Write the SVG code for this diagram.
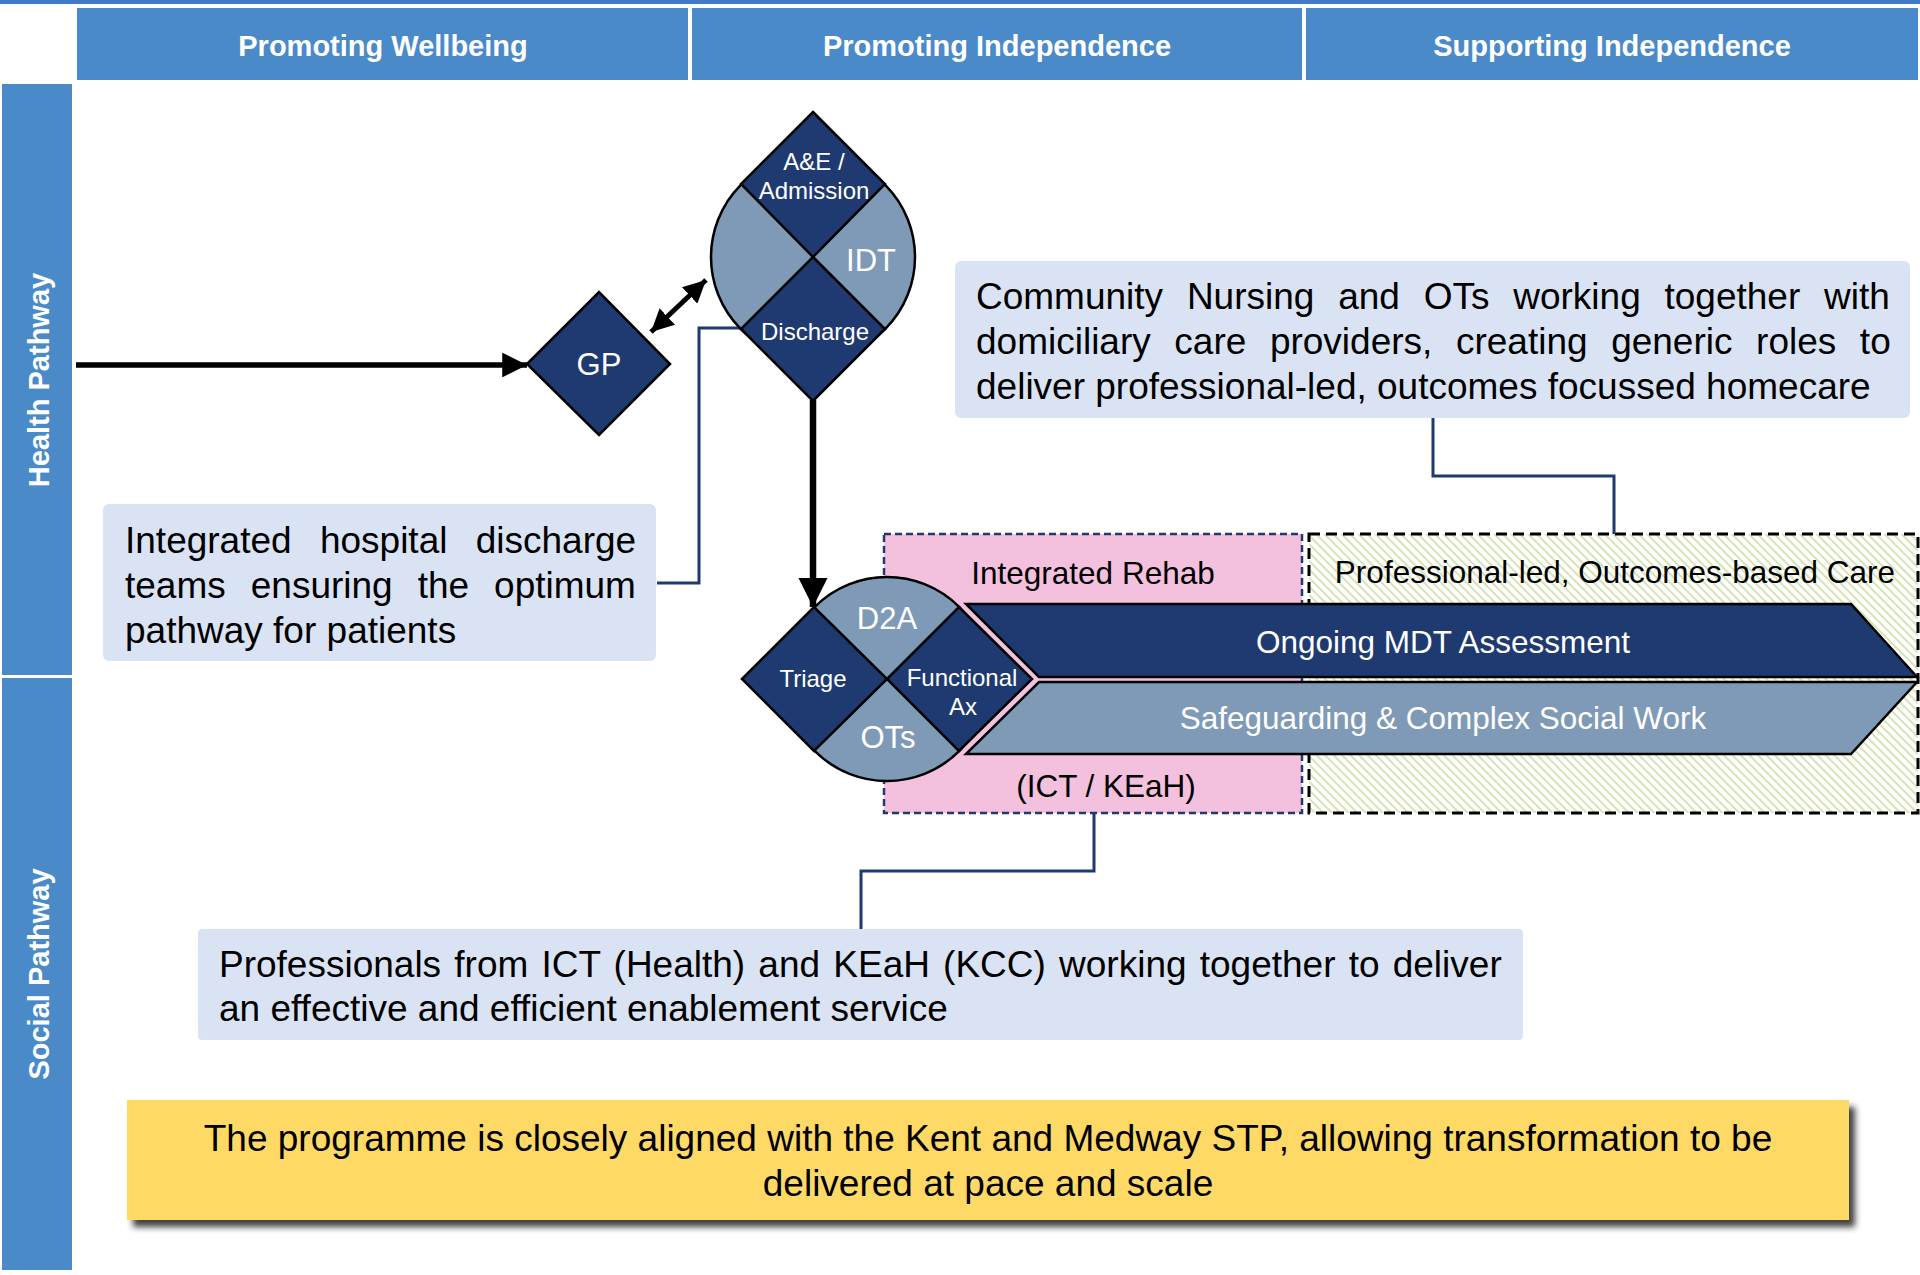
<svg xmlns="http://www.w3.org/2000/svg" width="1920" height="1275" viewBox="0 0 1920 1275">
<style>
text{font-family:"Liberation Sans",Arial,sans-serif}
.hdr{fill:#4A8AC9}
.hdrt{fill:#fff;font-weight:bold;font-size:29px;text-anchor:middle}
.navy{fill:#1F3A70;stroke:#000;stroke-width:2.5}
.light{fill:#7F9AB6;stroke:#000;stroke-width:2.5}
.wl{fill:#fff;font-size:24px;text-anchor:middle}
.wb{fill:#fff;font-size:31px;text-anchor:middle}
.box{fill:#DAE3F3}
.bt{fill:#000;font-size:37px}
.mt{fill:#000;font-size:31.5px}
.conn{fill:none;stroke:#1F3A70;stroke-width:3}
.arr{fill:none;stroke:#000}
</style>
<defs>
<pattern id="hatch" width="6" height="6" patternUnits="userSpaceOnUse" patternTransform="rotate(-45)">
<rect width="6" height="6" fill="#fff"/>
<line x1="1" y1="0" x2="1" y2="6" stroke="#D2E1AD" stroke-width="1.8"/>
</pattern>
<marker id="ah" viewBox="0 0 10 10" refX="10" refY="5" markerWidth="4.5" markerHeight="4.5" orient="auto-start-reverse" markerUnits="strokeWidth">
<path d="M0,0 L10,5 L0,10 z" fill="#000"/>
</marker>
<filter id="sh" x="-5%" y="-20%" width="115%" height="150%">
<feDropShadow dx="6" dy="7" stdDeviation="3" flood-color="#222" flood-opacity="0.85"/>
</filter>
</defs>
<rect width="1920" height="1275" fill="#fff"/>
<rect x="0" y="0" width="1920" height="4" fill="#3F7CC4"/>

<g id="header-wellbeing"><rect class="hdr" x="77" y="8" width="611" height="72"/><text class="hdrt" x="383" y="56">Promoting Wellbeing</text></g>
<g id="header-promoting"><rect class="hdr" x="692" y="8" width="610" height="72"/><text class="hdrt" x="997" y="56">Promoting Independence</text></g>
<g id="header-supporting"><rect class="hdr" x="1306" y="8" width="612" height="72"/><text class="hdrt" x="1612" y="56">Supporting Independence</text></g>

<g id="lane-health"><rect class="hdr" x="2" y="84" width="70" height="591"/><text class="hdrt" transform="translate(49,380) rotate(-90)">Health Pathway</text></g>
<g id="lane-social"><rect class="hdr" x="2" y="678" width="70" height="592"/><text class="hdrt" transform="translate(49,974) rotate(-90)">Social Pathway</text></g>

<g id="rehab-zone">
<rect x="884" y="534" width="418" height="279" fill="#F3C1DD" stroke="#1F3A70" stroke-width="2.5" stroke-dasharray="7 4"/>
<text class="mt" x="1093" y="584" text-anchor="middle">Integrated Rehab</text>
<text class="mt" x="1106" y="797" text-anchor="middle">(ICT / KEaH)</text>
</g>
<g id="care-zone">
<rect x="1309" y="534" width="609" height="279" fill="url(#hatch)" stroke="#000" stroke-width="3" stroke-dasharray="11 6"/>
<text class="mt" x="1615" y="583" text-anchor="middle">Professional-led, Outcomes-based Care</text>
</g>

<g id="mdt-assessment">
<polygon class="navy" points="966,604 1851,604 1917,677 1039,677"/>
<text class="wb" x="1443" y="653" style="font-size:31.5px">Ongoing MDT Assessment</text>
</g>
<g id="safeguarding">
<polygon class="light" points="1039,682 1917,682 1851,754 966,754"/>
<text class="wb" x="1443" y="729" style="font-size:31.5px">Safeguarding &amp; Complex Social Work</text>
</g>

<g id="connectors">
<polyline class="conn" points="743,328 699,328 699,583 657,583"/>
<polyline class="conn" points="1433,418 1433,476 1614,476 1614,534"/>
<polyline class="conn" points="1094,813 1094,871 861,871 861,929"/>
<line class="arr" x1="76" y1="365" x2="527" y2="365" stroke-width="5.5" marker-end="url(#ah)"/>
<line class="arr" x1="651" y1="332" x2="706" y2="280" stroke-width="5" marker-start="url(#ah)" marker-end="url(#ah)"/>
<line class="arr" x1="813" y1="400" x2="813" y2="607" stroke-width="6.5" marker-end="url(#ah)"/>
</g>

<g id="gp">
<polygon class="navy" points="527,364 599,292 670,364 599,435"/>
<text class="wb" x="599" y="375">GP</text>
</g>

<g id="idt">
<circle class="light" cx="813" cy="257" r="102"/>
<polygon class="navy" points="813,112 885,184 813,257 741,184"/>
<polygon class="navy" points="813,257 885,329 813,401 741,329"/>
<text class="wl" x="814" y="170">A&amp;E /</text>
<text class="wl" x="814" y="199">Admission</text>
<text class="wb" x="871" y="271">IDT</text>
<text class="wl" x="815" y="340">Discharge</text>
</g>

<g id="d2a">
<circle class="light" cx="887" cy="679" r="102"/>
<polygon class="navy" points="742,679 814,607 887,679 814,751"/>
<polygon class="navy" points="887,679 959,607 1032,679 959,751"/>
<text class="wb" x="887" y="629">D2A</text>
<text class="wb" x="888" y="748">OTs</text>
<text class="wl" x="813" y="687">Triage</text>
<text class="wl" x="962" y="686">Functional</text>
<text class="wl" x="963" y="715">Ax</text>
</g>

<g id="note-discharge">
<rect class="box" x="103" y="504" width="553" height="157" rx="6"/>
<text class="bt" x="125" y="553" word-spacing="18">Integrated hospital discharge</text>
<text class="bt" x="125" y="598" word-spacing="14.7">teams ensuring the optimum</text>
<text class="bt" x="125" y="643">pathway for patients</text>
</g>

<g id="note-community">
<rect class="box" x="955" y="261" width="955" height="157" rx="6"/>
<text class="bt" x="976" y="309" word-spacing="13.5">Community Nursing and OTs working together with</text>
<text class="bt" x="976" y="354" word-spacing="13.3">domiciliary care providers, creating generic roles to</text>
<text class="bt" x="976" y="399">deliver professional-led, outcomes focussed homecare</text>
</g>

<g id="note-professionals">
<rect class="box" x="198" y="929" width="1325" height="111" rx="4"/>
<text class="bt" x="219" y="977" word-spacing="2.9">Professionals from ICT (Health) and KEaH (KCC) working together to deliver</text>
<text class="bt" x="219" y="1021">an effective and efficient enablement service</text>
</g>

<g id="stp-banner">
<rect x="127" y="1100" width="1722" height="120" fill="#FFD966" filter="url(#sh)"/>
<text class="bt" x="988" y="1151" text-anchor="middle">The programme is closely aligned with the Kent and Medway STP, allowing transformation to be</text>
<text class="bt" x="988" y="1196" text-anchor="middle">delivered at pace and scale</text>
</g>
</svg>
